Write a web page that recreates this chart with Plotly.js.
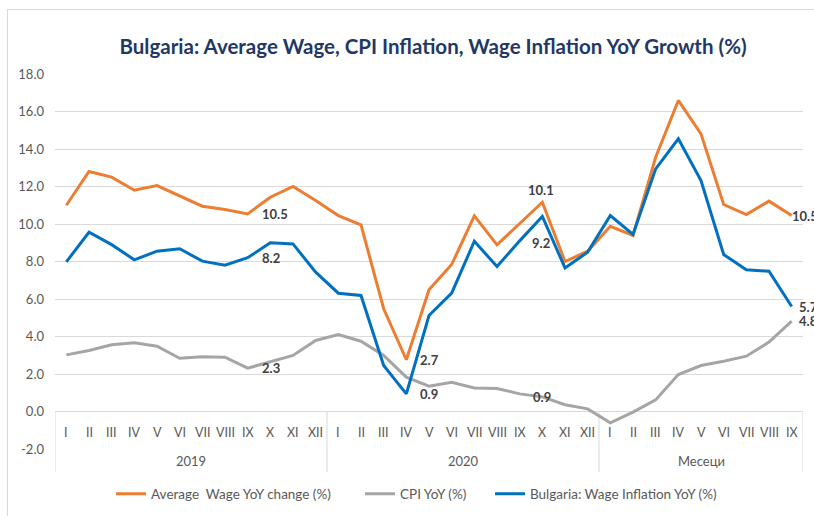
<!DOCTYPE html>
<html>
<head>
<meta charset="utf-8">
<script src="https://cdn.plot.ly/plotly-3.0.1.min.js"></script>
<style>
html,body{margin:0;padding:0;background:#fff;}
#chart{width:814px;height:516px;position:absolute;left:0;top:0;}
#frame{position:absolute;left:7px;top:9px;width:900px;height:600px;border-left:1px solid #d9d9d9;border-top:1px solid #d9d9d9;pointer-events:none;}
</style>
</head>
<body>
<div id="chart"></div>
<div id="frame"></div>
<script>
// ---- data ----
const months = ['I','II','III','IV','V','VI','VII','VIII','IX','X','XI','XII',
                'I','II','III','IV','V','VI','VII','VIII','IX','X','XI','XII',
                'I','II','III','IV','V','VI','VII','VIII','IX'];
const groups = ['2019','2020','Месеци'];
const groupSizes = [12, 12, 9];

const avgWage = [11.0,12.8,12.5,11.8,12.05,11.5,10.95,10.77,10.54,11.43,12.0,11.25,
                 10.45,9.95,5.48,2.76,6.49,7.84,10.43,8.89,10.05,11.16,8.0,8.55,
                 9.88,9.39,13.56,16.59,14.81,11.04,10.5,11.22,10.45];
const cpi     = [3.02,3.25,3.56,3.66,3.48,2.84,2.92,2.9,2.31,2.65,2.99,3.79,
                 4.11,3.75,2.99,1.83,1.35,1.56,1.26,1.23,0.94,0.78,0.36,0.14,
                 -0.6,-0.03,0.62,1.97,2.45,2.68,2.95,3.7,4.82];
const wageInfl= [7.98,9.56,8.9,8.09,8.55,8.68,8.02,7.8,8.2,9.0,8.94,7.43,
                 6.31,6.19,2.45,0.94,5.12,6.31,9.08,7.73,9.1,10.4,7.66,8.5,
                 10.45,9.44,12.94,14.54,12.32,8.37,7.56,7.48,5.6];

const seriesNames = ['Average  Wage YoY change (%)','CPI YoY (%)','Bulgaria: Wage Inflation YoY (%)'];
const seriesColors = ['#ED7D31','#A5A5A5','#0070C0'];

// data labels: index, series (0 wage,1 cpi,2 infl), text
const labelIdx    = [8, 8, 8, 15, 15, 21, 21, 21, 32, 32, 32];
const labelSeries = [0, 2, 1, 0, 2, 0, 2, 1, 0, 2, 1];
const labelText   = ['10.5','8.2','2.3','2.7','0.9','10.1','9.2','0.9','10.5','5.7','4.8'];

const yTicks = [-2,0,2,4,6,8,10,12,14,16,18];

// ---- build ----
const xs = months.map((m,i)=>i);
const allSeries = [avgWage, cpi, wageInfl];
const legendIds = ['legend','legend2','legend3'];
const traces = allSeries.map((vals,k)=>({
  x: xs, y: vals, type:'scatter', mode:'lines', name: seriesNames[k], legend: legendIds[k],
  line:{color: seriesColors[k], width:3}, hoverinfo:'skip'
}));

const annotations = [];
months.forEach((m,i)=>{
  annotations.push({x:i, y:-1.12, xref:'x', yref:'y', text:m, showarrow:false,
    font:{family:'Lato', size:12.5, color:'#595959'}, xanchor:'center', yanchor:'middle'});
});
// group labels
let start = 0;
const sepX = [-0.5];
groups.forEach((g,k)=>{
  const end = start + groupSizes[k];
  annotations.push({x:(start + end - 1)/2, y:-0.032, xref:'x', yref:'paper', text:g, showarrow:false,
    font:{family:'Lato', size:13, color:'#595959'}, xanchor:'center', yanchor:'middle'});
  sepX.push(end - 0.5);
  start = end;
});
// data labels
labelIdx.forEach((i,n)=>{
  const s = labelSeries[n];
  const a = {x:i, y:allSeries[s][i], xref:'x', yref:'y', text:'<b>'+labelText[n]+'</b>', showarrow:false,
    font:{family:'Lato', size:13, color:'#404040'}, yanchor:'middle'};
  if (i === 21) {
    a.xanchor = 'center';
    a.yshift = s===0 ? 12 : (s===2 ? -26 : 0);
    a.xshift = s===1 ? 0 : -1;
  } else if (i === 32) {
    a.xanchor = 'left'; a.xshift = (s===0 ? -2 : 5);
  } else {
    a.xanchor = 'left'; a.xshift = 12;
  }
  annotations.push(a);
});

const shapes = sepX.map(x=>({type:'line', xref:'x', yref:'paper', x0:x, x1:x, y0:-0.0613, y1:0.1,
  line:{color:'#d9d9d9', width:1}, layer:'below'}));

function legendAt(px){
  return {orientation:'h', x:px/814, xref:'container', xanchor:'left', y:1-494/516, yref:'container', yanchor:'middle',
    font:{family:'Lato', size:13.5, color:'#595959'}, bgcolor:'rgba(0,0,0,0)'};
}

const layout = {
  width:814, height:516,
  margin:{l:55, r:11, t:74, b:67, pad:0, autoexpand:false},
  paper_bgcolor:'#fff', plot_bgcolor:'#fff',
  title:{text:'<b>Bulgaria: Average Wage, CPI Inflation, Wage Inflation YoY Growth (%)</b>',
    font:{family:'Lato', size:20.5, color:'#1F3864'}, x:0.532, xanchor:'center', xref:'container',
    y:1-47/516, yref:'container', yanchor:'middle'},
  xaxis:{range:[-0.5,32.5], showgrid:false, zeroline:false, showticklabels:false, showline:false, fixedrange:true},
  yaxis:{range:[-2,18], tickvals:yTicks, ticktext:yTicks.map(v=>v.toFixed(1)),
    showgrid:true, gridcolor:'#d9d9d9', gridwidth:1, zeroline:true, zerolinecolor:'#d9d9d9', zerolinewidth:1,
    showline:false, ticks:'', ticklabelstandoff:10,
    tickfont:{family:'Lato', size:13, color:'#595959'}, fixedrange:true},
  showlegend:true,
  legend: legendAt(111),
  legend2: legendAt(360),
  legend3: legendAt(490),
  annotations: annotations,
  shapes: shapes
};

Plotly.newPlot('chart', traces, layout, {displayModeBar:false, staticPlot:true});
</script>
</body>
</html>
